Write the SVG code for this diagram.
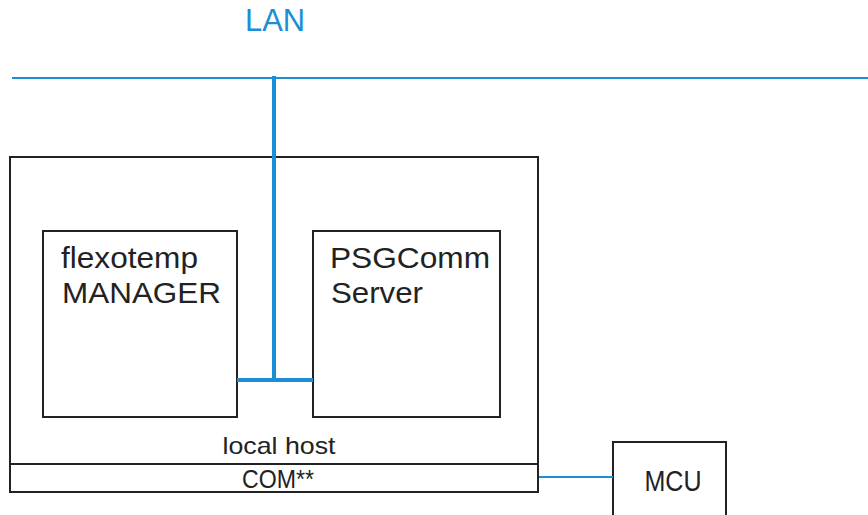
<svg xmlns="http://www.w3.org/2000/svg" width="868" height="515" viewBox="0 0 868 515">
<style>
.box{fill:#fff;stroke:#222;stroke-width:2}
.t{font-family:"Liberation Sans",Arial,sans-serif;fill:#222}
.blue{stroke:#1b8ed6;fill:none}
</style>
<rect width="868" height="515" fill="#fff"/>
<text class="t" x="275" y="31" font-size="32" text-anchor="middle" textLength="60" lengthAdjust="spacingAndGlyphs" style="fill:#1b8ed6">LAN</text>
<g id="localhost">
<rect class="box" x="10" y="157" width="528" height="335"/>
<line x1="10" y1="464" x2="538" y2="464" stroke="#222" stroke-width="2"/>
<text class="t" x="279" y="454" font-size="24" text-anchor="middle" textLength="113" lengthAdjust="spacingAndGlyphs">local host</text>
<text class="t" x="278" y="488" font-size="26" text-anchor="middle" textLength="72" lengthAdjust="spacingAndGlyphs">COM**</text>
</g>
<g id="manager">
<rect class="box" x="43" y="231" width="194" height="186"/>
<text class="t" x="61" y="268" font-size="30" textLength="137" lengthAdjust="spacingAndGlyphs">flexotemp</text>
<text class="t" x="62" y="303" font-size="30" textLength="159" lengthAdjust="spacingAndGlyphs">MANAGER</text>
</g>
<g id="psgcomm">
<rect class="box" x="313" y="231" width="187" height="186"/>
<text class="t" x="330" y="268" font-size="30" textLength="160" lengthAdjust="spacingAndGlyphs">PSGComm</text>
<text class="t" x="331" y="303" font-size="30" textLength="92" lengthAdjust="spacingAndGlyphs">Server</text>
</g>
<g id="mcu">
<rect class="box" x="613" y="442" width="113" height="80"/>
<text class="t" x="673" y="491" font-size="29" text-anchor="middle" textLength="57" lengthAdjust="spacingAndGlyphs">MCU</text>
</g>
<g id="connectors">
<line class="blue" x1="12" y1="78" x2="868" y2="78" stroke-width="2"/>
<line class="blue" x1="274" y1="76" x2="274" y2="382" stroke-width="4"/>
<line class="blue" x1="237" y1="380" x2="313" y2="380" stroke-width="4"/>
<line class="blue" x1="539" y1="477" x2="613" y2="477" stroke-width="2"/>
</g>
</svg>
